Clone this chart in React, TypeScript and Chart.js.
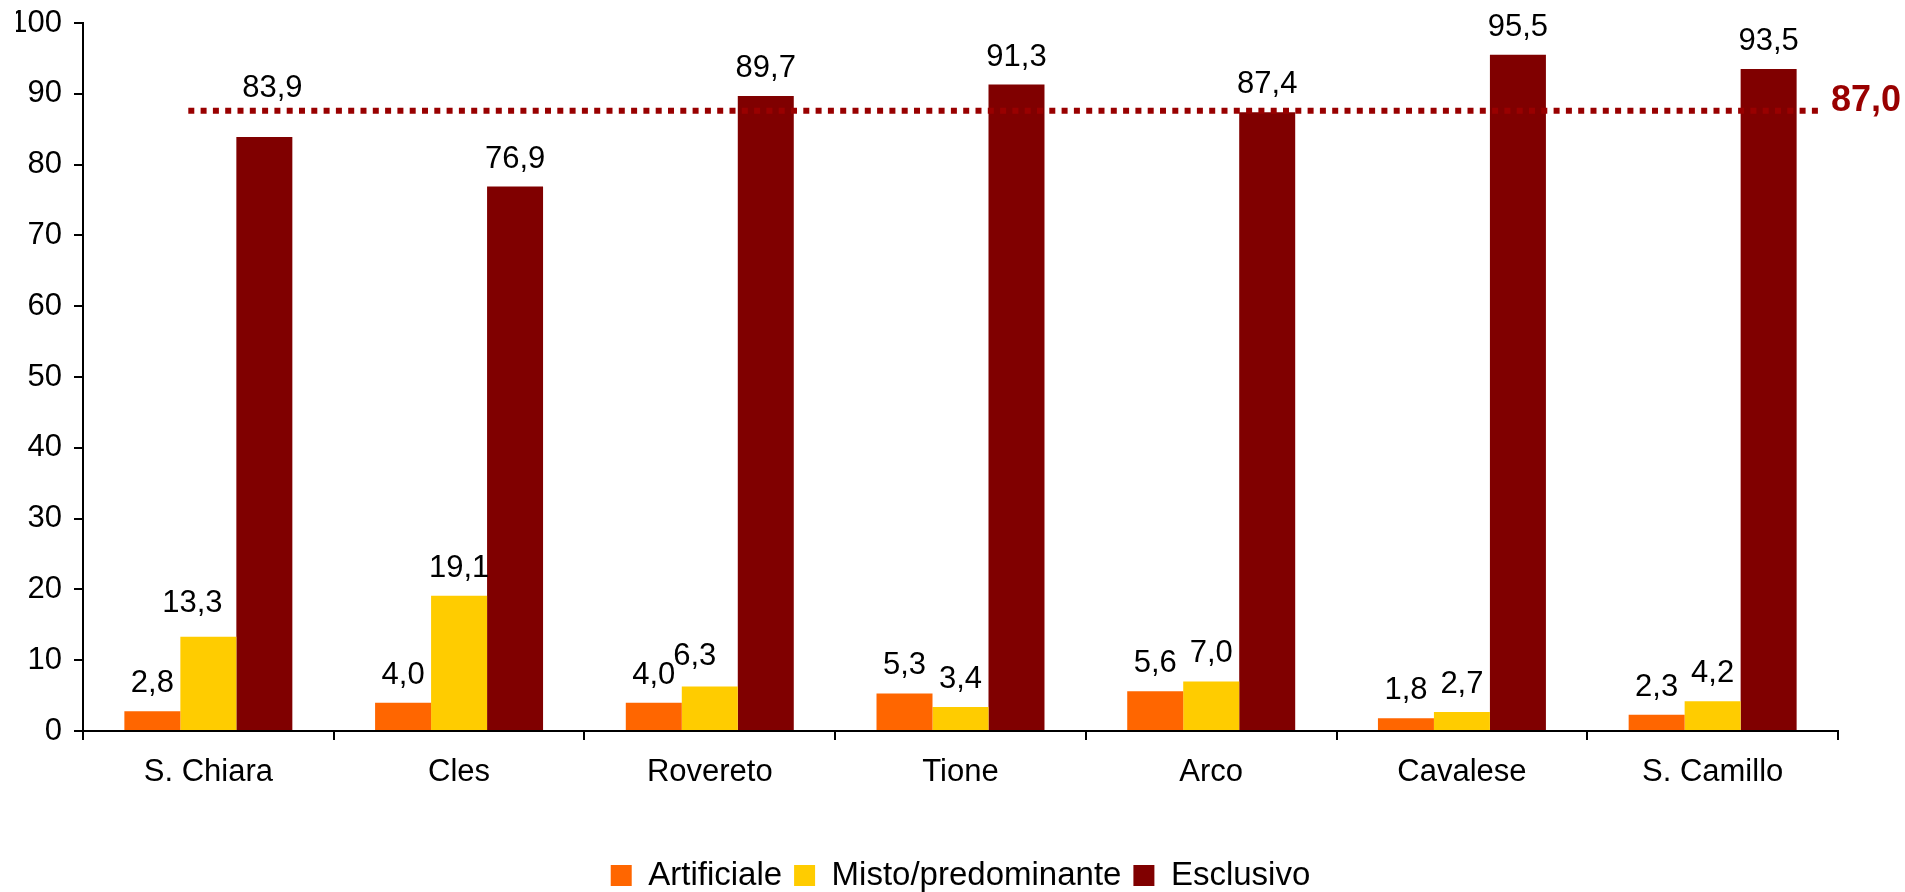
import React, { useEffect, useRef } from "react";
import { Chart, registerables } from "chart.js";

Chart.register(...registerables);

// ---- Data ----
const CATEGORIES = ["S. Chiara", "Cles", "Rovereto", "Tione", "Arco", "Cavalese", "S. Camillo"];
const SERIES_NAMES = ["Artificiale", "Misto/predominante", "Esclusivo"];
const ARTIFICIALE = [2.8, 4.0, 4.0, 5.3, 5.6, 1.8, 2.3];
const MISTO = [13.3, 19.1, 6.3, 3.4, 7.0, 2.7, 4.2];
const ESCLUSIVO = [83.9, 76.9, 89.7, 91.3, 87.4, 95.5, 93.5];
const Y_MIN = 0;
const Y_MAX = 100;
const Y_STEP = 10;
const AVERAGE_LABEL = "87,0";
const AVERAGE_LINE_VALUE = 87.6;
// reference line extent, in category-index units
const AVERAGE_LINE_FROM = -0.08;
const AVERAGE_LINE_TO = 6.44;

// ---- Styles ----
const COLORS = ["#FF6600", "#FFCC00", "#800000"];
const LINE_COLOR = "#990000";
const FONT = 'Arial, "Liberation Sans", Helvetica, sans-serif';
// manual label nudges (series-index -> px offsets)
const LABEL_NUDGES: Record<string, { dx: number; dy: number }> = {
  "2-0": { dx: 8, dy: -21 },
  "1-0": { dx: -16, dy: -6 },
  "1-2": { dx: -15, dy: -2 },
};

const fmt = (v: number) => v.toFixed(1).replace(".", ",");

const valueLabels = {
  id: "valueLabels",
  afterDatasetsDraw(chart: any) {
    const ctx = chart.ctx;
    ctx.save();
    ctx.font = `31px ${FONT}`;
    ctx.fillStyle = "#000";
    ctx.textAlign = "center";
    ctx.textBaseline = "alphabetic";
    chart.data.datasets.forEach((ds: any, si: number) => {
      const meta = chart.getDatasetMeta(si);
      meta.data.forEach((bar: any, i: number) => {
        const n = LABEL_NUDGES[`${si}-${i}`] || { dx: 0, dy: 0 };
        ctx.fillText(fmt(ds.data[i]), bar.x + n.dx, bar.y - 19 + n.dy);
      });
    });
    ctx.restore();
  },
};

const averageLine = {
  id: "averageLine",
  afterDatasetsDraw(chart: any) {
    const ctx = chart.ctx;
    const xs = chart.scales.x;
    const ys = chart.scales.y;
    const y = ys.getPixelForValue(AVERAGE_LINE_VALUE);
    const x0 = xs.getPixelForValue(AVERAGE_LINE_FROM);
    const x1 = xs.getPixelForValue(AVERAGE_LINE_TO);
    ctx.save();
    ctx.strokeStyle = LINE_COLOR;
    ctx.lineWidth = 6;
    ctx.setLineDash([6, 6.3]);
    ctx.beginPath();
    ctx.moveTo(x0, y);
    ctx.lineTo(x1, y);
    ctx.stroke();
    ctx.setLineDash([]);
    ctx.fillStyle = LINE_COLOR;
    ctx.font = `bold 36px ${FONT}`;
    ctx.textAlign = "left";
    ctx.textBaseline = "alphabetic";
    ctx.fillText(AVERAGE_LABEL, x1 + 8, y);
    ctx.restore();
  },
};

export default function App() {
  const ref = useRef<HTMLCanvasElement>(null);

  useEffect(() => {
    if (!ref.current) return;
    Chart.defaults.font.family = FONT;
    const chart = new Chart(ref.current, {
      type: "bar",
      data: {
        labels: CATEGORIES,
        datasets: [ARTIFICIALE, MISTO, ESCLUSIVO].map((d, i) => ({
          label: SERIES_NAMES[i],
          data: d,
          backgroundColor: COLORS[i],
          borderWidth: 0,
          barPercentage: 1,
          categoryPercentage: 0.67,
          yAxisID: "y",
        })),
      },
      options: {
        animation: false,
        responsive: true,
        maintainAspectRatio: false,
        layout: { padding: { top: 23, right: 0, bottom: -10, left: 16 } },
        plugins: {
          tooltip: { enabled: false },
          legend: {
            position: "bottom",
            labels: {
              boxWidth: 21,
              boxHeight: 21,
              padding: 12,
              color: "#000",
              font: { size: 33, family: FONT },
            },
          },
        },
        scales: {
          x: {
            grid: {
              display: true,
              drawOnChartArea: false,
              drawTicks: true,
              tickLength: 9,
              color: "#000",
              lineWidth: 2,
              offset: true,
            },
            border: { display: true, color: "#000", width: 2 },
            ticks: { color: "#000", font: { size: 31 }, padding: 14, maxRotation: 0 },
            afterFit: (s: any) => {
              s.height = 116;
            },
          },
          y: {
            min: Y_MIN,
            max: Y_MAX,
            ticks: { stepSize: Y_STEP, color: "#000", font: { size: 31 }, padding: 12 },
            grid: {
              display: true,
              drawOnChartArea: false,
              drawTicks: true,
              tickLength: 9,
              color: "#000",
              lineWidth: 2,
            },
            border: { display: true, color: "#000", width: 2 },
            afterFit: (s: any) => {
              s.width = 67;
              s.paddingTop = 0;
              s.paddingBottom = 0;
            },
          },
          yPad: {
            type: "linear",
            position: "right",
            display: true,
            grid: { display: false },
            border: { display: false },
            ticks: { display: false },
            afterFit: (s: any) => {
              s.width = 67;
              s.paddingTop = 0;
              s.paddingBottom = 0;
            },
          },
        },
      },
      plugins: [valueLabels, averageLine],
    } as any);
    return () => chart.destroy();
  }, []);

  return (
    <div
      style={{
        position: "fixed",
        left: 0,
        top: 0,
        width: 1905,
        height: 892,
        background: "#fff",
      }}
    >
      <canvas ref={ref} />
    </div>
  );
}
